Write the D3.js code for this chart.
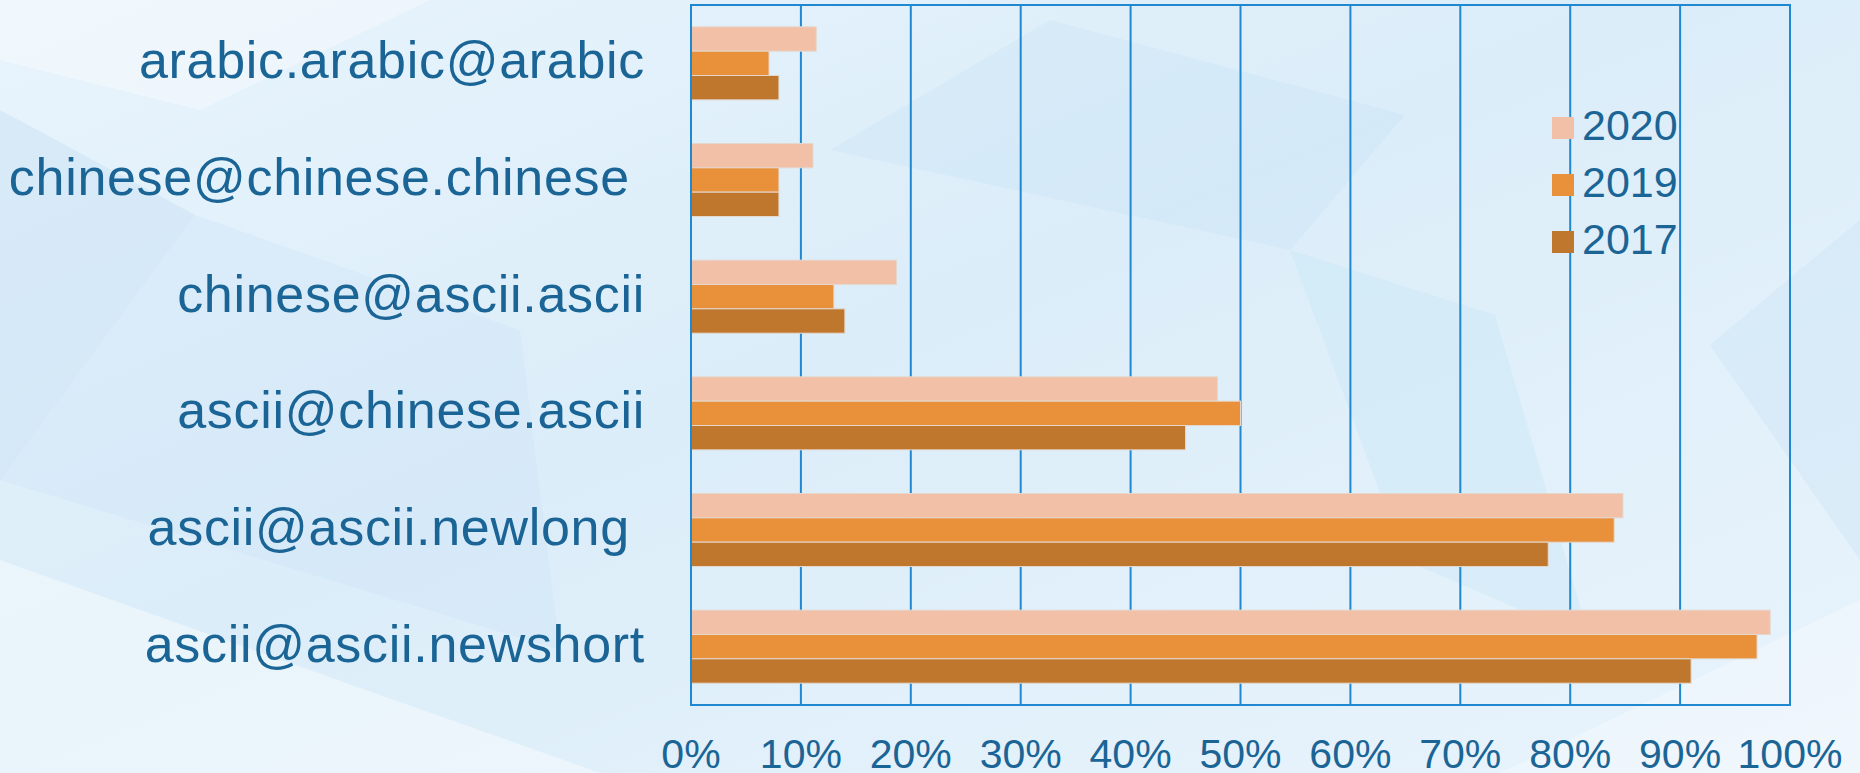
<!DOCTYPE html>
<html>
<head>
<meta charset="utf-8">
<script src="https://cdn.jsdelivr.net/npm/d3@7"></script>
<style>
  html, body { margin: 0; padding: 0; overflow: hidden; }
  text { font-family: "Liberation Sans", Arial, sans-serif; white-space: pre; }
</style>
</head>
<body>
<div id="vis"></div>
<script>
const WIDTH = 1860
const HEIGHT = 773

// data (percent)
const categories = [
	'arabic.arabic@arabic',
	'chinese@chinese.chinese ',
	'chinese@ascii.ascii',
	'ascii@chinese.ascii',
	'ascii@ascii.newlong ',
	'ascii@ascii.newshort'
]
const seriesNames = ['2020', '2019', '2017']
const values2020 = [11.4, 11.1, 18.7, 47.9, 84.8, 98.2]
const values2019 = [7.1, 8.0, 13.0, 50.0, 84.0, 97.0]
const values2017 = [8.0, 8.0, 14.0, 45.0, 78.0, 91.0]
const ticks = [0, 10, 20, 30, 40, 50, 60, 70, 80, 90, 100]

const seriesValues = [values2020, values2019, values2017]
const colors = ['#f2c0a6', '#e9903b', '#bf762d']
const textColor = '#1b6596'
const gridColor = '#2088d0'

const plot = { left: 691, right: 1790, top: 5, bottom: 705 }

let x = d3.scaleLinear()
	.domain([0, 100])
	.range([plot.left, plot.right])

let y = d3.scaleBand()
	.domain(categories)
	.range([plot.top, plot.bottom])
	.paddingInner(0.374)
	.paddingOuter(0.187)

let ySub = d3.scaleBand()
	.domain(seriesNames)
	.range([0, y.bandwidth()])

let svg = d3.select('#vis')
	.append('svg')
	.attr('width', WIDTH)
	.attr('height', HEIGHT)

// background: pale blue with soft facets
let defs = svg.append('defs')
let grad = defs.append('linearGradient')
	.attr('id', 'bg')
	.attr('x1', 0).attr('y1', 0)
	.attr('x2', 1).attr('y2', 1)
grad.append('stop').attr('offset', '0%').attr('stop-color', '#e8f4fc')
grad.append('stop').attr('offset', '45%').attr('stop-color', '#dbedf9')
grad.append('stop').attr('offset', '100%').attr('stop-color', '#e9f4fc')

svg.append('rect')
	.attr('width', WIDTH)
	.attr('height', HEIGHT)
	.attr('fill', 'url(#bg)')

const facets = [
	{ pts: [[0, 0], [430, 0], [200, 110], [0, 60]], fill: '#ffffff', op: 0.35 },
	{ pts: [[0, 110], [195, 215], [0, 480]], fill: '#c8dff4', op: 0.45 },
	{ pts: [[195, 215], [520, 330], [560, 650], [0, 480]], fill: '#cfe4f7', op: 0.4 },
	{ pts: [[830, 150], [1050, 20], [1405, 115], [1290, 250]], fill: '#cbe5f7', op: 0.45 },
	{ pts: [[1290, 250], [1495, 315], [1590, 640], [1405, 560]], fill: '#c9e6f7', op: 0.45 },
	{ pts: [[1710, 345], [1860, 220], [1860, 560]], fill: '#cfe5f5', op: 0.5 },
	{ pts: [[0, 560], [600, 773], [0, 773]], fill: '#ffffff', op: 0.4 },
	{ pts: [[1500, 773], [1860, 600], [1860, 773]], fill: '#ffffff', op: 0.3 }
]
svg.append('g')
	.selectAll('polygon')
	.data(facets)
	.enter()
	.append('polygon')
	.attr('points', d => d.pts.map(p => p.join(',')).join(' '))
	.attr('fill', d => d.fill)
	.attr('opacity', d => d.op)

// vertical gridlines
svg.append('g')
	.selectAll('line')
	.data(ticks)
	.enter()
	.append('line')
	.attr('x1', d => x(d))
	.attr('x2', d => x(d))
	.attr('y1', plot.top)
	.attr('y2', plot.bottom)
	.attr('stroke', gridColor)
	.attr('stroke-width', 2)

// bars
let groups = svg.append('g')
	.selectAll('g')
	.data(categories)
	.enter()
	.append('g')
	.attr('transform', d => `translate(0,${y(d)})`)

groups.selectAll('rect')
	.data((d, i) => seriesNames.map((s, j) => ({ series: s, value: seriesValues[j][i], color: colors[j] })))
	.enter()
	.append('rect')
	.attr('x', x(0))
	.attr('y', d => ySub(d.series))
	.attr('width', d => x(d.value) - x(0))
	.attr('height', ySub.bandwidth())
	.attr('fill', d => d.color)
	.attr('stroke', '#e4d8ce')
	.attr('stroke-width', 1)

// plot frame
svg.append('rect')
	.attr('x', plot.left)
	.attr('y', plot.top)
	.attr('width', plot.right - plot.left)
	.attr('height', plot.bottom - plot.top)
	.attr('fill', 'none')
	.attr('stroke', gridColor)
	.attr('stroke-width', 2)

// category labels
svg.append('g')
	.selectAll('text')
	.data(categories)
	.enter()
	.append('text')
	.attr('x', 645)
	.attr('y', d => y(d) + y.bandwidth() / 2 + 15)
	.attr('text-anchor', 'end')
	.attr('font-size', '52px')
	.attr('letter-spacing', '0.7px')
	.attr('fill', textColor)
	.text(d => d)

// x tick labels
svg.append('g')
	.selectAll('text')
	.data(ticks)
	.enter()
	.append('text')
	.attr('x', d => x(d))
	.attr('y', 768)
	.attr('text-anchor', 'middle')
	.attr('font-size', '41px')
	.attr('fill', textColor)
	.text(d => d + '%')

// legend
let legend = svg.append('g')
	.attr('class', 'legend')
	.attr('transform', 'translate(1552,117)')

legend.selectAll('rect')
	.data(seriesNames)
	.enter()
	.append('rect')
	.attr('x', 0)
	.attr('y', (d, i) => i * 57)
	.attr('width', 22)
	.attr('height', 22)
	.attr('fill', (d, i) => colors[i])

legend.selectAll('text')
	.data(seriesNames)
	.enter()
	.append('text')
	.attr('x', 30)
	.attr('y', (d, i) => i * 57 + 22.5)
	.attr('font-size', '43px')
	.attr('fill', textColor)
	.text(d => d)
</script>
</body>
</html>
